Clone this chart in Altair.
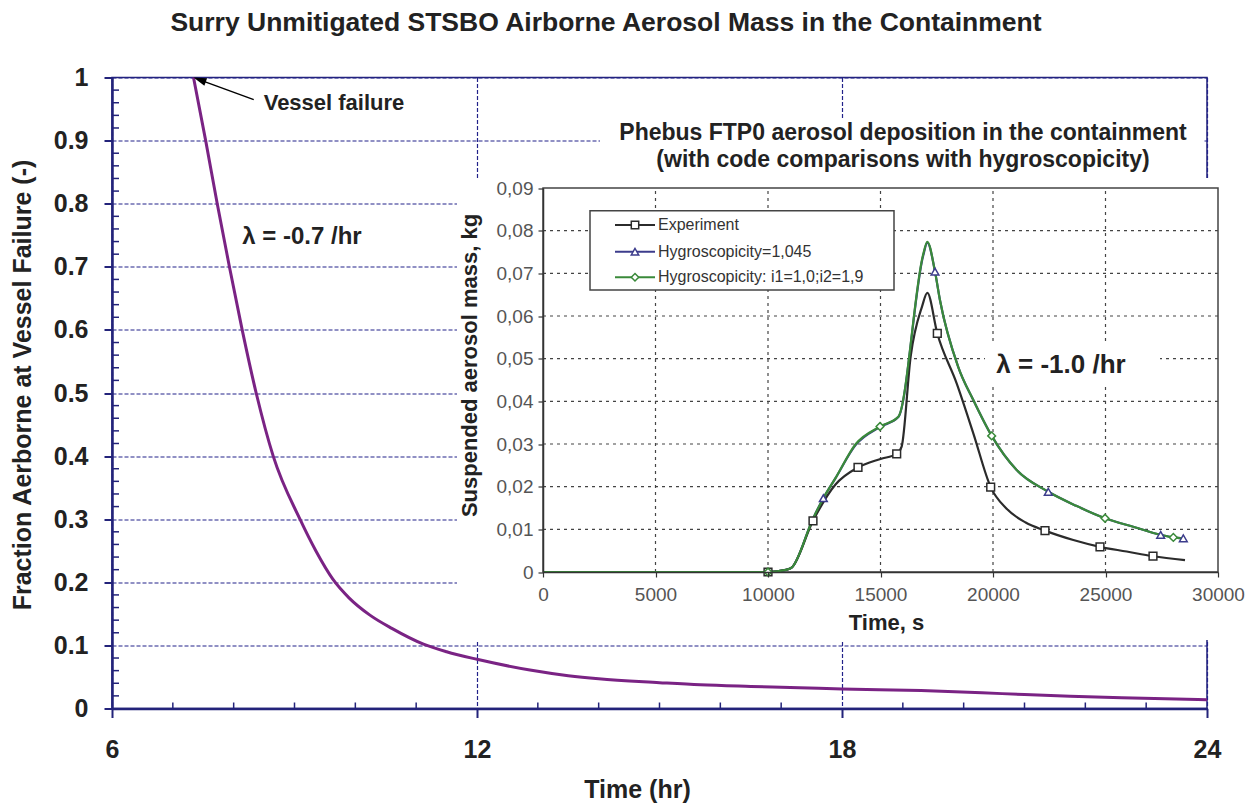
import altair as alt
import pandas as pd

# ---------------- data: main chart ----------------
hours = [7.34, 7.54, 7.73, 7.93, 8.14, 8.37, 8.65, 9.09, 9.35, 9.63, 9.9, 10.24, 10.6,
         11.12, 11.5, 12.0, 12.87, 13.5, 14.0, 15.0, 15.67, 16.5, 17.3, 18.0, 19.3, 20.3,
         21.0, 21.75, 22.6, 23.67, 24.0]
fraction = [1.0, 0.9, 0.8, 0.7, 0.6, 0.5, 0.4, 0.3, 0.25, 0.205, 0.175, 0.148, 0.127,
            0.102, 0.09, 0.078, 0.061, 0.052, 0.047, 0.041, 0.0375, 0.035, 0.033, 0.031,
            0.0285, 0.025, 0.022, 0.0195, 0.017, 0.0145, 0.014]
x_major = [6, 12, 18, 24]
x_minor = [7, 8, 9, 10, 11, 13, 14, 15, 16, 17, 19, 20, 21, 22, 23]
y_major = [0, 0.1, 0.2, 0.3, 0.4, 0.5, 0.6, 0.7, 0.8, 0.9, 1.0]
y_minor = [0.02, 0.04, 0.06, 0.08, 0.12, 0.14, 0.16, 0.18, 0.22, 0.24, 0.26, 0.28,
           0.32, 0.34, 0.36, 0.38, 0.42, 0.44, 0.46, 0.48, 0.52, 0.54, 0.56, 0.58,
           0.62, 0.64, 0.66, 0.68, 0.72, 0.74, 0.76, 0.78, 0.82, 0.84, 0.86, 0.88,
           0.92, 0.94, 0.96, 0.98]

# ---------------- data: inset chart ----------------
series = ["Experiment", "Hygroscopicity=1,045", "Hygroscopicity: i1=1,0;i2=1,9"]
exp_t = [0, 10000, 10800, 11050, 12000, 13000, 14000, 15000, 15720, 15940, 16340, 16845,
         17080, 17525, 18385, 19125, 19897, 20608, 21450, 22311, 23570, 24755, 25942,
         27111, 28533]
exp_v = [0, 0, 0.0005, 0.001, 0.012, 0.0205, 0.0245, 0.0265, 0.0277, 0.0294, 0.0505,
         0.0622, 0.0654, 0.0559, 0.0442, 0.0325, 0.0199, 0.0148, 0.0116, 0.0097, 0.0075,
         0.0059, 0.0048, 0.0037, 0.0028]
blue_t = [0, 10000, 10800, 11050, 12000, 12459, 13000, 13900, 14978, 15793, 16900, 17080,
          17422, 17644, 18452, 19125, 19942, 21052, 22458, 23700, 24978, 26300, 27452,
          28015, 28459]
blue_v = [0, 0, 0.0005, 0.001, 0.0125, 0.0173, 0.022, 0.0298, 0.034, 0.0363, 0.0742,
          0.0772, 0.0704, 0.0637, 0.0481, 0.0403, 0.0319, 0.0239, 0.0188, 0.0155, 0.0126,
          0.0105, 0.0087, 0.0081, 0.0079]
green_t = [0, 10000, 10800, 11050, 12000, 12459, 13000, 13900, 14978, 15793, 16900, 17080,
           17422, 17644, 18452, 19125, 19942, 21052, 22458, 23700, 24978, 26300, 27452,
           28015, 28459]
green_v = [0, 0, 0.0005, 0.001, 0.0125, 0.0173, 0.022, 0.030, 0.0341, 0.0364, 0.0745,
           0.0774, 0.0704, 0.0637, 0.0481, 0.0403, 0.0319, 0.0239, 0.0188, 0.0155, 0.0126,
           0.0105, 0.0087, 0.0081, 0.0079]
exp_mk_t = [10000, 12000, 14000, 15720, 17525, 19897, 22311, 24755, 27111]
exp_mk_v = [0, 0.012, 0.0245, 0.0277, 0.0559, 0.0199, 0.0097, 0.0059, 0.0037]
blue_mk_t = [12459, 17422, 22458, 27452, 28459]
blue_mk_v = [0.0173, 0.0704, 0.0188, 0.0087, 0.0079]
green_mk_t = [10000, 14978, 19942, 24978, 28015]
green_mk_v = [0, 0.0341, 0.0319, 0.0126, 0.0081]
inset_x_ticks = [0, 5000, 10000, 15000, 20000, 25000, 30000]
inset_y_ticks = [0, 0.01, 0.02, 0.03, 0.04, 0.05, 0.06, 0.07, 0.08, 0.09]
inset_grid_x = [5000, 10000, 15000, 20000, 25000]
inset_grid_y = [0.01, 0.02, 0.03, 0.04, 0.05, 0.06, 0.07, 0.08]

# ---------------- styles ----------------
FONT = "Liberation Sans"
NAVY = "#23237a"
GRIDNAVY = "#22228a"
PURPLE = "#7a2384"
TXT = "#222222"
COLORS = ["#2b2b2b", "#3c3c8c", "#3a8a3a"]
SHAPES = ["square", "triangle-up", "diamond"]
W, H = 1095, 631

one = pd.DataFrame({"k": [0]})

# ---------------- main chart ----------------
def x_main():
    return alt.Scale(domain=[6, 24], nice=False, zero=False)


def y_main():
    return alt.Scale(domain=[0, 1], nice=False, zero=False)


x_axis = alt.Axis(values=x_major, title="Time (hr)", grid=True, gridColor=GRIDNAVY,
                  gridDash=[4, 2], gridWidth=1.2, gridOpacity=1, domainColor=NAVY,
                  domainWidth=2.5, tickColor=NAVY, tickSize=9, tickWidth=2,
                  labelFont=FONT, labelFontSize=25, labelFontWeight="bold", labelColor=TXT,
                  labelPadding=20, labelFlush=False, titleFont=FONT, titleFontSize=25,
                  titleFontWeight="bold", titleColor=TXT, titleX=525, titleY=81,
                  titleBaseline="middle", orient="bottom")
y_axis = alt.Axis(values=y_major, format=".1~f", title="Fraction Aerborne at Vessel Failure (-)",
                  grid=True, gridColor=GRIDNAVY, gridDash=[4, 2], gridWidth=1.2, gridOpacity=1,
                  domainColor=NAVY, domainWidth=2.5, tickColor=NAVY, tickSize=8, tickWidth=2,
                  labelFont=FONT, labelFontSize=25, labelFontWeight="bold", labelColor=TXT,
                  labelPadding=16, labelFlush=False, titleFont=FONT, titleFontSize=25,
                  titleFontWeight="bold", titleColor=TXT, titleAngle=270, titleX=-90,
                  titleY=307, titleBaseline="middle", titleAlign="center", orient="left")

curve = alt.Chart(pd.DataFrame({"hour": hours, "fraction": fraction})).mark_line(
    color=PURPLE, strokeWidth=3, interpolate="monotone").encode(
    x=alt.X("hour:Q", scale=x_main(), axis=x_axis),
    y=alt.Y("fraction:Q", scale=y_main(), axis=y_axis))

xminor = alt.Chart(pd.DataFrame({"hour": x_minor})).mark_rule(color=NAVY, strokeWidth=1.5).encode(
    x=alt.X("hour:Q", scale=x_main(), axis=None), y=alt.value(H), y2=alt.value(H - 6))
yminor = alt.Chart(pd.DataFrame({"fraction": y_minor})).mark_rule(color=NAVY, strokeWidth=1.5).encode(
    y=alt.Y("fraction:Q", scale=y_main(), axis=None), x=alt.value(0), x2=alt.value(7))


def white_box(x0, x1, y0, y1, stroke=None):
    kw = dict(fill="white")
    if stroke:
        kw.update(stroke=stroke, strokeWidth=1.5)
    return alt.Chart(one).mark_rect(**kw).encode(
        x=alt.value(x0), x2=alt.value(x1), y=alt.value(y0), y2=alt.value(y1))


def label(text, x, y, size, weight="bold", color=TXT, align="center", baseline="middle"):
    return alt.Chart(pd.DataFrame({"t": [text]})).mark_text(
        font=FONT, fontSize=size, fontWeight=weight, color=color, align=align,
        baseline=baseline).encode(text="t:N", x=alt.value(x), y=alt.value(y))


inset_bg = white_box(345, 1133, 100.5, 562.5)
title_bg = white_box(488, 1091, 42.5, 100.5)

arrow_line = alt.Chart(one).mark_rule(color="black", strokeWidth=1.5).encode(
    x=alt.X(datum=8.33, scale=x_main(), axis=None), x2=alt.X2(datum=hours[0] + 0.08),
    y=alt.Y(datum=0.965, scale=y_main(), axis=None), y2=alt.Y2(datum=fraction[0] - 0.003))
arrow_head = alt.Chart(one).mark_point(
    shape="M0,0L-0.8,2.6L0.8,2.6Z", filled=True, color="black", size=100, angle=290,
    opacity=1).encode(
    x=alt.X(datum=hours[0], scale=x_main(), axis=None),
    y=alt.Y(datum=fraction[0], scale=y_main(), axis=None))

# ---------------- inset chart ----------------
def xs():
    return alt.Scale(domain=[0, 30000], range=[431, 1106], nice=False, zero=False)


def ys():
    return alt.Scale(domain=[0, 0.09], range=[494.5, 110.5], nice=False, zero=False)


ix_axis = alt.Axis(orient="bottom", offset=-136.5, values=inset_x_ticks, format="d",
                   grid=False, domainColor="#333333", domainWidth=1.5, tickColor="#333333",
                   tickSize=5, tickWidth=1.2, labelFont=FONT, labelFontSize=19,
                   labelColor="#555555", labelPadding=8, labelFlush=False,
                   title="Time, s", titleFont=FONT, titleFontSize=22, titleFontWeight="bold",
                   titleColor=TXT, titleX=774, titleY=50, titleBaseline="middle", zindex=1)
iy_axis = alt.Axis(orient="left", offset=-431, values=inset_y_ticks,
                   labelExpr="datum.value == 0 ? '0' : replace(format(datum.value, '.2f'), '.', ',')",
                   grid=False, domainColor="#333333", domainWidth=1.5, tickColor="#333333",
                   tickSize=5, tickWidth=1.2, labelFont=FONT, labelFontSize=19,
                   labelColor="#555555", labelPadding=5, labelFlush=False,
                   title="Suspended aerosol mass, kg", titleFont=FONT, titleFontSize=22,
                   titleFontWeight="bold", titleColor=TXT, titleAngle=270, titleX=-74,
                   titleY=287.5, titleBaseline="middle", titleAlign="center", zindex=1)

frame = alt.Chart(one).mark_rect(fillOpacity=0, stroke="#444444", strokeWidth=1.5).encode(
    x=alt.X(datum=0, scale=xs(), axis=None), x2=alt.X2(datum=30000),
    y=alt.Y(datum=0, scale=ys(), axis=None), y2=alt.Y2(datum=0.09))
grid_v = alt.Chart(pd.DataFrame({"t": inset_grid_x})).mark_rule(
    color="#444444", strokeDash=[3, 4], strokeWidth=1.2).encode(
    x=alt.X("t:Q", scale=xs(), axis=None),
    y=alt.Y(datum=0, scale=ys(), axis=None), y2=alt.Y2(datum=0.09))
grid_h = alt.Chart(pd.DataFrame({"v": inset_grid_y})).mark_rule(
    color="#444444", strokeDash=[3, 4], strokeWidth=1.2).encode(
    y=alt.Y("v:Q", scale=ys(), axis=None),
    x=alt.X(datum=0, scale=xs(), axis=None), x2=alt.X2(datum=30000))


def inset_line(t, v, color, axes=False):
    return alt.Chart(pd.DataFrame({"t": t, "v": v})).mark_line(
        color=color, strokeWidth=2.2, interpolate="monotone").encode(
        x=alt.X("t:Q", scale=xs(), axis=ix_axis if axes else None),
        y=alt.Y("v:Q", scale=ys(), axis=iy_axis if axes else None))


def inset_marks(t, v, color, shape):
    return alt.Chart(pd.DataFrame({"t": t, "v": v})).mark_point(
        shape=shape, filled=True, fill="white", stroke=color, strokeWidth=1.5, size=60,
        opacity=1).encode(
        x=alt.X("t:Q", scale=xs(), axis=None), y=alt.Y("v:Q", scale=ys(), axis=None))


# ---------------- inset legend ----------------
legend_layers = [white_box(478, 782, 133.2, 212.5, stroke="#444444")]
row_y = [147.5, 174.2, 199.8]
for name, col, shp, yy in zip(series, COLORS, SHAPES, row_y):
    legend_layers.append(alt.Chart(one).mark_rule(color=col, strokeWidth=2).encode(
        x=alt.value(503), x2=alt.value(543), y=alt.value(yy)))
    legend_layers.append(alt.Chart(one).mark_point(
        shape=shp, filled=True, fill="white", stroke=col, strokeWidth=1.5, size=55,
        opacity=1).encode(x=alt.value(523), y=alt.value(yy)))
    legend_layers.append(label(name, 546, yy, 16, weight="normal", color="#333333",
                               align="left"))

layers = [
    curve, xminor, yminor, inset_bg, title_bg, arrow_line, arrow_head,
    label("Surry Unmitigated STSBO Airborne Aerosol Mass in the Containment", 494, -47, 26.5,
          baseline="alphabetic"),
    label("Vessel failure", 222, 25.5, 22),
    label("λ = -0.7 /hr", 190, 159.5, 24),
    label("Phebus FTP0 aerosol deposition in the containment", 791, 62.5, 23,
          baseline="alphabetic"),
    label("(with code comparisons with hygroscopicity)", 791, 89, 23, baseline="alphabetic"),
    frame, grid_v, grid_h,
    inset_line(blue_t, blue_v, COLORS[1]),
    inset_line(exp_t, exp_v, COLORS[0], axes=True),
    inset_line(green_t, green_v, COLORS[2]),
    inset_marks(blue_mk_t, blue_mk_v, COLORS[1], SHAPES[1]),
    inset_marks(exp_mk_t, exp_mk_v, COLORS[0], SHAPES[0]),
    inset_marks(green_mk_t, green_mk_v, COLORS[2], SHAPES[2]),
    *legend_layers,
    white_box(873, 1048, 267.5, 307.5),
    label("λ = -1.0 /hr", 949, 287.5, 26),
]

chart = alt.layer(*layers).resolve_scale(
    x="independent", y="independent"
).properties(
    width=W, height=H,
    background="white",
    autosize=alt.AutoSizeParams(type="none"),
    padding={"left": 104, "top": 69.5, "right": 40, "bottom": 95},
).configure_view(stroke=NAVY, strokeWidth=1.5)

chart.save("out.html", embed_options={"renderer": "svg", "actions": False})
